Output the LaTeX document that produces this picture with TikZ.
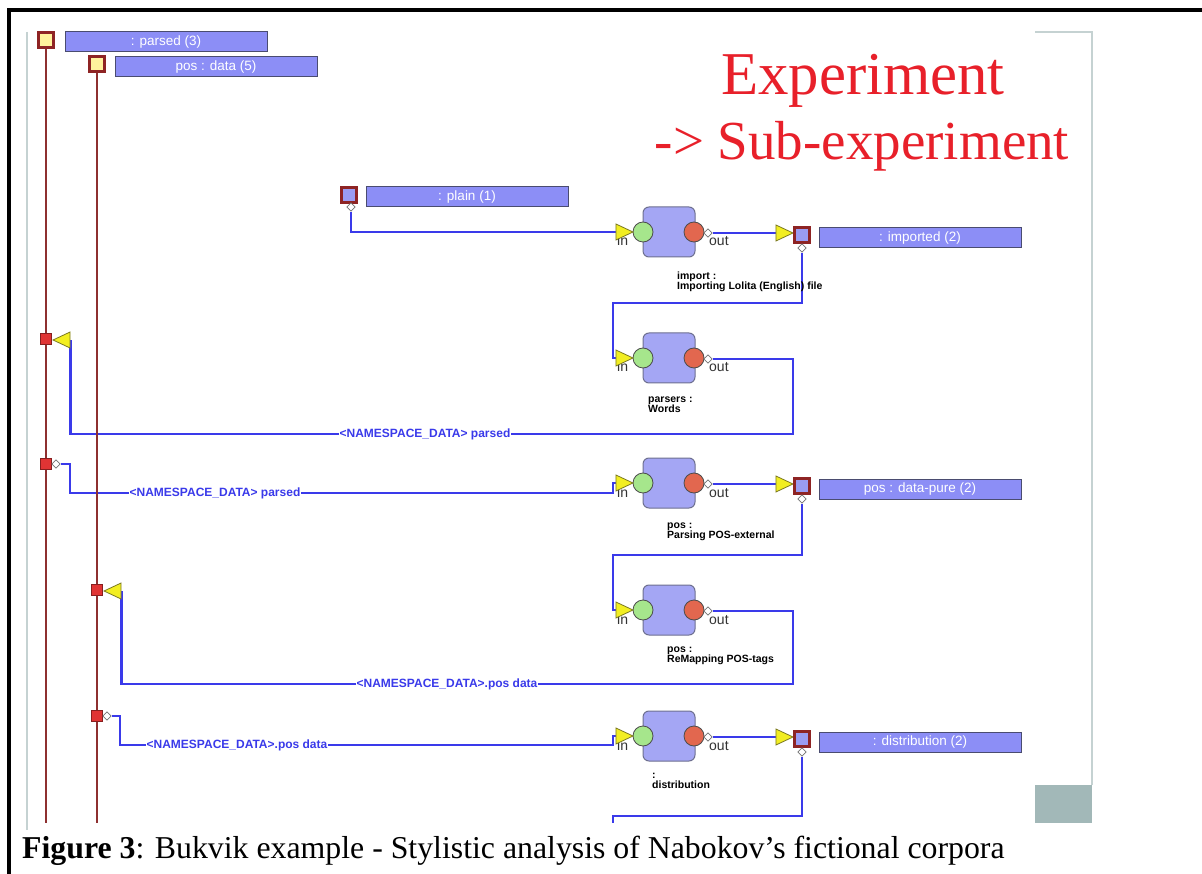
\documentclass[tikz,border=0pt]{standalone}
\usepackage{fontspec}
\setmainfont{Liberation Serif}
\setsansfont{Liberation Sans}
\usetikzlibrary{shapes.geometric}
\pgfdeclarelayer{bg}
\pgfsetlayers{bg,main}

\definecolor{barfill}{HTML}{8C8EF6}
\definecolor{barline}{HTML}{4A4C70}
\definecolor{procfill}{HTML}{A4A6F4}
\definecolor{procline}{HTML}{6E7090}
\definecolor{inport}{HTML}{A6E68C}
\definecolor{outport}{HTML}{E2674F}
\definecolor{trifill}{HTML}{F2EE22}
\definecolor{triline}{HTML}{7C7A22}
\definecolor{sqline}{HTML}{8E2424}
\definecolor{sqyellow}{HTML}{FFF29C}
\definecolor{sqblue}{HTML}{9A9CF2}
\definecolor{busred}{HTML}{8E3030}
\definecolor{tapred}{HTML}{E03434}
\definecolor{wireblue}{HTML}{3A3AEA}
\definecolor{titlered}{HTML}{E8202A}
\definecolor{slidegrey}{HTML}{C5D2D2}
\definecolor{slideblock}{HTML}{A2B8B8}

\tikzset{
  bar/.style={draw=barline, line width=1pt, fill=barfill, minimum width=202pt,
    minimum height=20pt, inner sep=0pt, text=white,
    font=\sffamily\fontsize{13.5}{13.5}\selectfont},
  datasq/.style={draw=sqline, line width=2.2pt, minimum size=15pt, inner sep=0pt},
  proc/.style={draw=procline, line width=1pt, fill=procfill, rounded corners=6pt,
    minimum width=52pt, minimum height=50pt, inner sep=0pt},
  inp/.style={circle, draw=black!70, line width=0.8pt, fill=inport,
    minimum size=20pt, inner sep=0pt},
  outp/.style={circle, draw=black!70, line width=0.8pt, fill=outport,
    minimum size=20pt, inner sep=0pt},
  tri/.style={isosceles triangle, isosceles triangle stretches,
    minimum width=16pt, minimum height=17pt, draw=triline, fill=trifill,
    line width=0.8pt, inner sep=0pt},
  pd/.style={diamond, draw=black!55, fill=white, line width=0.6pt,
    minimum size=8.5pt, inner sep=0pt},
  tap/.style={draw=tapred!60!black, fill=tapred, minimum size=11pt,
    inner sep=0pt, line width=0.5pt},
  wire/.style={draw=wireblue, line width=2.3pt},
  bus/.style={draw=busred, line width=1.8pt},
  nslabel/.style={text=wireblue, font=\sffamily\bfseries\fontsize{12}{12}\selectfont,
    fill=white, inner sep=1pt},
  plabel/.style={font=\sffamily\bfseries\fontsize{10.5}{10}\selectfont, align=left,
    anchor=north west, inner sep=0pt},
  portlbl/.style={font=\sffamily\fontsize{14}{14}\selectfont, text=black!80,
    inner sep=0pt, anchor=base west},
}

\begin{document}
\begin{tikzpicture}[x=1pt, y=-1pt]
\useasboundingbox (0,0) rectangle (1202,874);

% title
\node[anchor=base, text=titlered, font=\fontsize{60.8}{60}\selectfont, inner sep=0pt]
  (title1) at (863,95) {Experiment};
\node[anchor=base, text=titlered, font=\fontsize{55}{55}\selectfont, inner sep=0pt]
  (title2) at (862,160) {-> Sub-experiment};

% namespace ports (top left)
\node[datasq, fill=sqyellow] (ys1) at (46,40) {};
\node[bar] (bar1) at (166,42) {: parsed (3)};
\node[datasq, fill=sqyellow] (ys2) at (97,64) {};
\node[bar] (bar2) at (216,67) {pos : data (5)};

\coordinate (bus1end) at (46,823);
\coordinate (bus2end) at (97,823);

% taps on the namespace buses
\node[tap] (rs1) at (46,339) {};
\node[tap] (rs2) at (46,464) {};
\node[pd] (rd2) at (56,464) {};
\node[tap] (rs3) at (97,590) {};
\node[tap] (rs4) at (97,716) {};
\node[pd] (rd4) at (107,716) {};
\node[tri, shape border rotate=180, anchor=apex] (tl1) at (52,340) {};
\node[tri, shape border rotate=180, anchor=apex] (tl2) at (103,591) {};

% plain input
\node[datasq, fill=sqblue] (ps) at (349,195) {};
\node[bar] (barp) at (467,197) {: plain (1)};
\node[pd] (dplain) at (351,207) {};

% processors
\foreach \k/\y in {1/232, 2/358, 3/483, 4/610, 5/736} {
  \node[portlbl] (in\k) at (617,\y+14) {in};
  \node[portlbl] (out\k) at (709,\y+14) {out};
  \node[proc] (p\k) at (669,\y) {};
  \node[inp] (i\k) at (643,\y) {};
  \node[outp] (o\k) at (694,\y) {};
  \node[pd] (od\k) at (708,\y+1) {};
  \node[tri, anchor=apex] (t\k) at (634,\y) {};
}

\node[plabel] (lab1) at (677,272) {import :\\Importing Lolita (English) file};
\node[plabel] (lab2) at (648,397) {parsers :\\Words};
\node[plabel] (lab3) at (667,523) {pos :\\Parsing POS-external};
\node[plabel] (lab4) at (667,647) {pos :\\ReMapping POS-tags};
\node[plabel] (lab5) at (652,773) {:\\distribution};

% output data ports
\foreach \k/\y/\txt in {1/232/{: imported (2)}, 3/483/{pos : data-pure (2)}, 5/736/{: distribution (2)}} {
  \node[tri, anchor=apex] (ot\k) at (794,\y+1) {};
  \node[datasq, fill=sqblue] (s\k) at (802,\y+3) {};
  \node[bar] (b\k) at (920,\y+6) {\txt};
  \node[pd] (sd\k) at (802,\y+16) {};
}

\coordinate (endc) at (613,823);

% connector labels
\node[nslabel] (ns1) at (425,434) {<NAMESPACE\_DATA> parsed};
\node[nslabel] (ns2) at (215,493) {<NAMESPACE\_DATA> parsed};
\node[nslabel] (ns3) at (447,684) {<NAMESPACE\_DATA>.pos data};
\node[nslabel] (ns4) at (237,745) {<NAMESPACE\_DATA>.pos data};

\begin{pgfonlayer}{bg}
  \fill[white] (0,0) rectangle (1202,874);
  % slide outline and corner block
  \draw[slidegrey, line width=1.5pt] (27,32) -- (27,830);
  \draw[slidegrey, line width=1.5pt] (1035,32) -- (1092,32) -- (1092,785);
  \fill[slideblock] (1035,785) rectangle (1092,823);
  % page frame
  \draw[line width=3.5pt] (1202,10) -- (9,10) -- (9,874);
  % data wires
  \draw[wire] (dplain.south) |- (t1.lower side);
  \draw[wire] (od1.east) -- (ot1.lower side);
  \draw[wire] (sd1.south) |- (613,303) |- (t2.lower side);
  \draw[wire] (od2.east) -| (793,434) -| (tl1.lower side);
  \draw[wire] (rd2.east) -| (70,493) -| (613,483) -- (t3.lower side);
  \draw[wire] (od3.east) -- (ot3.lower side);
  \draw[wire] (sd3.south) |- (613,555) |- (t4.lower side);
  \draw[wire] (od4.east) -| (793,684) -| (tl2.lower side);
  \draw[wire] (rd4.east) -| (120,745) -| (613,736) -- (t5.lower side);
  \draw[wire] (od5.east) -- (ot5.lower side);
  \draw[wire] (sd5.south) |- (613,816) -- (endc);
  % namespace buses
  \draw[bus] (ys1.south) -- (bus1end);
  \draw[bus] (ys2.south) -- (bus2end);
\end{pgfonlayer}

% caption
\node[anchor=base west, inner sep=0pt, font=\fontsize{31.8}{32}\selectfont] (cap) at (22,858)
  {\textbf{Figure 3}: Bukvik example - Stylistic analysis of Nabokov’s fictional corpora};
\end{tikzpicture}
\end{document}
